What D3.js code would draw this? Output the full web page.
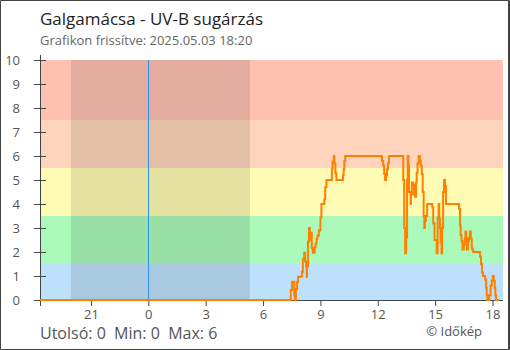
<!DOCTYPE html>
<html><head><meta charset="utf-8">
<script src="https://cdn.jsdelivr.net/npm/d3@7"></script>
<style>
html,body{margin:0;padding:0;background:#fff;}
svg{display:block;font-family:"Open Sans",sans-serif;}
</style></head>
<body><svg id="c" width="510" height="350"></svg>
<script>
const chartTitle = "Galgamácsa - UV-B sugárzás";
const chartSubtitle = "Grafikon frissítve: 2025.05.03 18:20";
const footerStats = "Utolsó: 0  Min: 0  Max: 6";
const footerCredit = "© Időkép";

const domainStart = "2025-05-02 18:20";
const domainEnd = "2025-05-03 18:33";
const nightStart = "2025-05-02 19:57";
const nightEnd = "2025-05-03 05:19";
const midnight = "2025-05-03 00:00";

const yTicks = [0,1,2,3,4,5,6,7,8,9,10];
const bandLimits = [0, 1.5, 3.5, 5.5, 7.5, 10];
const bandColors = ["#bde0fb", "#abfab9", "#fefbb4", "#fed5bc", "#fec0b0"];

const times = [
"2025-05-02 18:20","2025-05-03 07:27","2025-05-03 07:31","2025-05-03 07:38","2025-05-03 07:40","2025-05-03 07:43","2025-05-03 07:47","2025-05-03 07:50",
"2025-05-03 08:02","2025-05-03 08:05","2025-05-03 08:09","2025-05-03 08:12","2025-05-03 08:15","2025-05-03 08:17","2025-05-03 08:18","2025-05-03 08:21",
"2025-05-03 08:24","2025-05-03 08:27","2025-05-03 08:31","2025-05-03 08:33","2025-05-03 08:36","2025-05-03 08:42","2025-05-03 08:45","2025-05-03 08:48",
"2025-05-03 08:51","2025-05-03 08:55","2025-05-03 09:00","2025-05-03 09:03","2025-05-03 09:12","2025-05-03 09:15","2025-05-03 09:19","2025-05-03 09:36",
"2025-05-03 09:38","2025-05-03 09:42","2025-05-03 09:44","2025-05-03 09:47","2025-05-03 09:50","2025-05-03 10:11","2025-05-03 10:13","2025-05-03 10:15",
"2025-05-03 10:18","2025-05-03 12:13","2025-05-03 12:17","2025-05-03 12:20","2025-05-03 12:23","2025-05-03 12:26","2025-05-03 12:29","2025-05-03 12:32",
"2025-05-03 12:35","2025-05-03 13:20","2025-05-03 13:23","2025-05-03 13:26","2025-05-03 13:29","2025-05-03 13:32","2025-05-03 13:34","2025-05-03 13:36",
"2025-05-03 13:38","2025-05-03 13:43","2025-05-03 13:44","2025-05-03 13:47","2025-05-03 13:51","2025-05-03 13:54","2025-05-03 13:57","2025-05-03 14:00",
"2025-05-03 14:02","2025-05-03 14:05","2025-05-03 14:08","2025-05-03 14:12","2025-05-03 14:15","2025-05-03 14:18","2025-05-03 14:21","2025-05-03 14:24",
"2025-05-03 14:26","2025-05-03 14:28","2025-05-03 14:31","2025-05-03 14:35","2025-05-03 14:51","2025-05-03 14:54","2025-05-03 14:58","2025-05-03 15:05",
"2025-05-03 15:08","2025-05-03 15:11","2025-05-03 15:13","2025-05-03 15:15","2025-05-03 15:17","2025-05-03 15:20","2025-05-03 15:22","2025-05-03 15:25",
"2025-05-03 15:28","2025-05-03 15:31","2025-05-03 15:34","2025-05-03 16:15","2025-05-03 16:18","2025-05-03 16:20","2025-05-03 16:23","2025-05-03 16:26",
"2025-05-03 16:30","2025-05-03 16:33","2025-05-03 16:35","2025-05-03 16:37","2025-05-03 16:40","2025-05-03 16:43","2025-05-03 16:46","2025-05-03 16:49",
"2025-05-03 16:52","2025-05-03 16:55","2025-05-03 16:58","2025-05-03 17:00","2025-05-03 17:21","2025-05-03 17:24","2025-05-03 17:27","2025-05-03 17:30",
"2025-05-03 17:37","2025-05-03 17:40","2025-05-03 17:42","2025-05-03 17:44","2025-05-03 17:50","2025-05-03 17:54","2025-05-03 17:58","2025-05-03 18:01",
"2025-05-03 18:04","2025-05-03 18:07","2025-05-03 18:09","2025-05-03 18:11","2025-05-03 18:20"
];
const uvValues = [
0,0.42,0.76,0.2,0,0.46,0.76,0.97,
1.18,1.7,1.97,1.6,1.4,0.97,1.4,2.43,
3.0,2.5,2.8,2.16,1.97,2.2,2.35,2.55,
2.68,2.9,3.44,4.0,4.2,4.7,5.0,5.47,
5.76,6.0,5.7,5.28,5.0,5.2,5.45,5.8,
6.0,5.8,5.6,5.25,5.0,5.2,5.45,5.7,
6.0,5.0,3.0,1.95,2.6,5.0,6.0,5.6,
4.5,4.0,4.4,4.9,4.8,4.4,4.3,4.9,
5.3,5.7,6.0,5.8,5.6,5.25,4.5,3.5,
3.0,3.3,3.5,4.0,3.85,3.2,2.5,1.95,
3.45,4.0,3.4,3.0,2.4,1.95,3.0,4.5,
5.0,4.75,4.0,3.8,3.1,2.7,2.45,2.1,
2.3,2.55,2.85,2.55,2.1,2.45,2.6,2.85,
2.55,2.15,2.05,2.0,1.8,1.5,1.15,1.0,
0.85,0.5,0.2,0,0.2,0.6,0.8,1.0,
0.8,0.5,0.2,0,0
];

const parse = d3.timeParse("%Y-%m-%d %H:%M");
const data = times.map((t,i)=>({t:parse(t), v:uvValues[i]}));

const svg = d3.select("#c");
const L = 40, R = 503, T = 60, B = 300;
const x = d3.scaleTime().domain([parse(domainStart), parse(domainEnd)]).range([L, R]);
const y = d3.scaleLinear().domain([0, 10]).range([B, T]);

// frame
svg.append("path").attr("d","M0.5,0.5H509.5V349.5H0.5Z").attr("fill","none").attr("stroke","#444").attr("stroke-width",1);
svg.append("line").attr("x1",508.5).attr("x2",508.5).attr("y1",0).attr("y2",350).attr("stroke","#444");

// bands
const bands = bandColors.map((c,i)=>({lo:bandLimits[i], hi:bandLimits[i+1], c}));
svg.append("g").selectAll("rect").data(bands).join("rect")
  .attr("x", L).attr("width", R - L)
  .attr("y", d=>y(d.hi)).attr("height", d=>y(d.lo)-y(d.hi))
  .attr("fill", d=>d.c);

// night shade
svg.append("rect")
  .attr("x", x(parse(nightStart))).attr("width", x(parse(nightEnd)) - x(parse(nightStart)))
  .attr("y", T).attr("height", B - T)
  .attr("fill", "rgba(0,0,0,0.1)");

// midnight line
svg.append("line")
  .attr("x1", Math.round(x(parse(midnight)))+0.5).attr("x2", Math.round(x(parse(midnight)))+0.5)
  .attr("y1", T).attr("y2", B).attr("stroke", "#2a90e6").attr("stroke-width", 1);

// axes
const xAxis = d3.axisBottom(x)
  .ticks(d3.timeHour.every(3))
  .tickFormat(d3.timeFormat("%-H"))
  .tickSize(6).tickSizeOuter(0);
const gx = svg.append("g").attr("transform", `translate(0,${B})`).call(xAxis);
gx.select(".domain").attr("d", `M${L-6},0.5H${R}`).attr("stroke","#444");
gx.selectAll(".tick line").attr("stroke","#444");
gx.selectAll(".tick text").attr("fill","#555").attr("font-size","13px").attr("font-family","Open Sans").attr("dy","0.8em");

const yAxis = d3.axisLeft(y).tickValues(yTicks).tickFormat(d3.format("d")).tickSize(6).tickSizeOuter(0);
const gy = svg.append("g").attr("transform", `translate(${L},0)`).call(yAxis);
gy.select(".domain").attr("d", `M0.5,${T-5}V${B+6}`).attr("stroke","#444");
gy.selectAll(".tick line").attr("x1", 6).attr("x2", -6).attr("stroke","#444");
gy.selectAll(".tick text").attr("x", -20).attr("fill","#555").attr("font-size","13px").attr("font-family","Open Sans");

// line
const line = d3.line().x(d=>x(d.t)).y(d=>y(d.v)).curve(d3.curveStepAfter);
svg.append("path").datum(data).attr("d", line)
  .attr("fill","none").attr("stroke","#ff8000").attr("stroke-width",2).attr("stroke-linejoin","miter");

// texts
svg.append("text").attr("x", 40).attr("y", 25).attr("font-size","17px").attr("fill","#222").text(chartTitle);
svg.append("text").attr("x", 40).attr("y", 45).attr("font-size","13px").attr("fill","#666").text(chartSubtitle);
svg.append("text").attr("x", 40).attr("y", 339).attr("font-size","16px").attr("fill","#555").attr("xml:space","preserve").style("white-space","pre").text(footerStats);
svg.append("text").attr("x", 482).attr("y", 336).attr("text-anchor","end").attr("font-size","13px").attr("fill","#555").text(footerCredit);
</script>
</body></html>
